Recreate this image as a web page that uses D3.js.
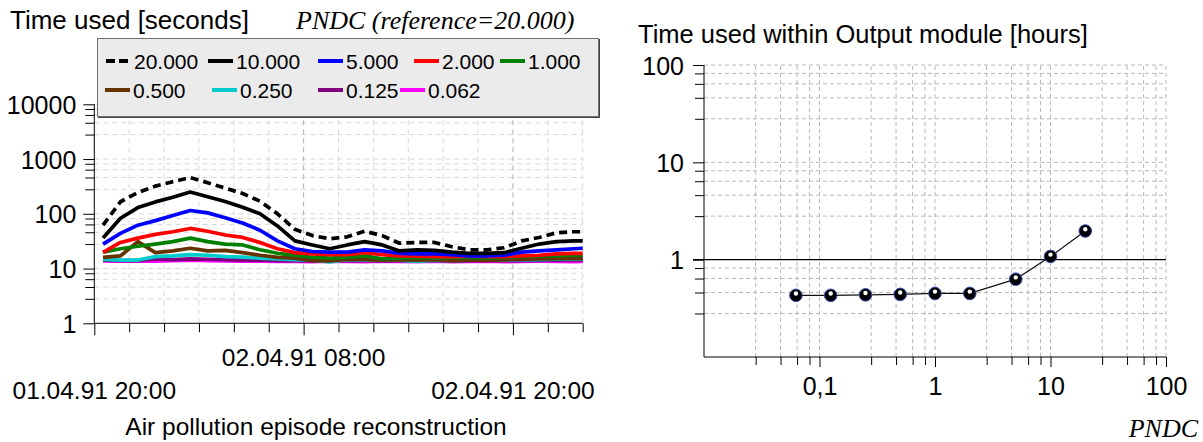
<!DOCTYPE html>
<html>
<head>
<meta charset="utf-8">
<script src="https://cdn.jsdelivr.net/npm/d3@7"></script>
<style>
  html, body { margin: 0; padding: 0; background: #fff; }
  svg { display: block; }
  text { font-family: "Liberation Sans", Arial, sans-serif; fill: #000; }
  .serif { font-family: "Liberation Serif", "Times New Roman", serif; font-style: italic; }
</style>
</head>
<body>
<svg id="chart" width="1203" height="442"></svg>
<script>
// ---------- data: computing time per simulation step (left panel) ----------
// hours after 01.04.91 20:00 (UTC) for each sample
const hourOffsets = [0.5, 1.5, 2.5, 3.5, 4.5, 5.5, 6.5, 7.5, 8.5, 9.5, 10.5, 11.5, 12.5, 13.5,
  14.5, 15.5, 16.5, 17.5, 18.5, 19.5, 20.5, 21.5, 22.5, 23.5, 24.5, 25.5, 26.5, 27.5, 28];

const seriesNames = ["20.000", "10.000", "5.000", "2.000", "1.000", "0.500", "0.250", "0.125", "0.062"];
const seriesColors = ["#000000", "#000000", "#0000ff", "#ff0000", "#008000", "#663300", "#00cccc", "#800080", "#ff00ff"];

const sec20000 = [62, 166, 245, 320, 385, 460, 370, 295, 235, 170, 100, 52, 40, 35, 38, 48, 40, 29, 30, 30, 25, 22, 22, 24, 32, 37, 45, 47, 47];
const sec10000 = [36, 83, 130, 165, 200, 250, 205, 168, 132, 100, 60, 32, 27, 23, 27, 31, 27, 21, 22, 21.5, 20, 19, 19, 19.5, 23.5, 28, 31, 32, 32];
const sec5000  = [28, 44, 62, 75, 93, 115, 104, 85, 68, 50, 32, 23, 20.5, 20, 20, 22, 21, 19, 18.5, 18.5, 18, 17, 17, 17.5, 20, 21, 22, 23, 23.5];
const sec2000  = [19.8, 30, 36, 42, 47, 54, 48, 41, 37, 30, 23, 19.5, 18.5, 18, 18, 19.5, 18, 17, 16.8, 16.5, 16.5, 17, 16.5, 16.5, 17, 17.5, 18.5, 19, 19];
const sec1000  = [19.8, 23, 25.5, 28, 31, 36, 31, 28, 27, 22, 19, 17.5, 16, 15.5, 16, 17, 15, 15.5, 16, 15.5, 16, 16, 15.5, 16, 16.5, 17, 17, 17.5, 17.5];
const sec0500  = [16, 17, 31, 19.5, 21, 23.5, 21, 21.5, 19.5, 17.5, 16, 15.5, 14, 13.8, 14.7, 14.5, 14.3, 14.5, 14.2, 14.5, 13.8, 14.3, 14.2, 14.4, 14.8, 15, 15.2, 15.4, 15.4];
const sec0250  = [14.7, 14.2, 14.3, 16.5, 17, 18, 17.5, 16.5, 16.2, 15.5, 15, 14.5, 14.3, 13.2, 14.5, 14.3, 14.5, 14.2, 13.5, 14.2, 14, 14.3, 14.5, 14.3, 14.5, 14.5, 14.8, 15, 15];
const sec0125  = [14.2, 14, 14, 15, 14.5, 15, 14.8, 14.5, 14.3, 14.2, 14, 14, 13.8, 14, 13.9, 14, 13.8, 14, 14, 13.9, 14, 14, 13.9, 14, 14, 14.1, 14.2, 14.2, 14.2];
const sec0062  = [13.8, 13.6, 13.7, 13.6, 14, 14.2, 14, 13.8, 13.7, 13.6, 13.5, 13.5, 13.4, 13.6, 13.5, 13.4, 13.6, 13.5, 13.4, 13.6, 13.4, 13.5, 13.6, 13.4, 13.5, 13.6, 13.5, 13.4, 13.5];
const seriesValues = [sec20000, sec10000, sec5000, sec2000, sec1000, sec0500, sec0250, sec0125, sec0062];

// ---------- data: output module time versus PNDC (right panel) ----------
const pndcValues = [0.0625, 0.125, 0.25, 0.5, 1, 2, 5, 10, 20];
const outputHours = [0.43, 0.43, 0.435, 0.44, 0.45, 0.45, 0.63, 1.08, 1.97];

// tick labels
const leftYTicks = [1, 10, 100, 1000, 10000];
const rightYTicks = [1, 10, 100];
const rightXTicks = [0.1, 1, 10, 100];
const timeLabelHours = [0, 12, 24];   // 20:00, 08:00, 20:00
const minorSteps = [2.8, 4.6, 6.4, 8.2];  // each decade split in five linear steps

// ---------- helpers ----------
const svg = d3.select("#chart");
const startTime = Date.UTC(1991, 3, 1, 20, 0);
const hourMs = 3600 * 1000;
const fmtTime = d3.utcFormat("%d.%m.%y %H:%M");
const commaLocale = d3.formatLocale({decimal: ",", thousands: "", grouping: [3], currency: ["", ""]});
const fmtComma = commaLocale.format("~g");

function logGrid(lo, hi) {
  const out = [];
  for (let d = lo; d < hi * 0.999; d *= 10) {
    out.push(d);
    minorSteps.forEach(m => out.push(d * m));
  }
  out.push(hi);
  return out;
}

// =================== LEFT PANEL ===================
const L = {left: 94.3, right: 582.7, top: 104.3, bottom: 323.3};
const xTime = d3.scaleUtc()
  .domain([new Date(startTime), new Date(startTime + 28 * hourMs)])
  .range([L.left, L.right]);
const yLeft = d3.scaleLog().domain([1, 10000]).range([L.bottom, L.top]);

const left = svg.append("g");
const leftGridY = logGrid(1, 10000);
const timeTicks = d3.range(0, 29, 2).map(h => new Date(startTime + h * hourMs));

// grid
left.append("g").selectAll("line").data(leftGridY.filter(v => v > 1)).join("line")
  .attr("x1", L.left).attr("x2", L.right)
  .attr("y1", d => yLeft(d)).attr("y2", d => yLeft(d))
  .attr("stroke", "#d8d8d8").attr("stroke-width", 1).attr("stroke-dasharray", "5,4");
left.append("g").selectAll("line").data(timeTicks.slice(1)).join("line")
  .attr("x1", d => xTime(d)).attr("x2", d => xTime(d))
  .attr("y1", L.bottom).attr("y2", L.top)
  .attr("stroke", (d, i) => ((i + 1) % 6 === 0 ? "#b0b0b0" : "#d8d8d8"))
  .attr("stroke-width", 1).attr("stroke-dasharray", "5,4");

// y axis (major + minor ticks)
const yAxisMajor = d3.axisLeft(yLeft).tickValues(leftYTicks).tickSize(11).tickSizeOuter(0)
  .tickPadding(7).tickFormat(d3.format("d"));
const yAxisMinor = d3.axisLeft(yLeft).tickValues(leftGridY.filter(v => leftYTicks.indexOf(v) < 0))
  .tickSize(9).tickSizeOuter(0).tickFormat("");
const gyl = left.append("g").attr("transform", `translate(${L.left},0)`).call(yAxisMinor);
const gyL = left.append("g").attr("transform", `translate(${L.left},0)`).call(yAxisMajor);
[gyl, gyL].forEach(g => {
  g.select(".domain").remove();
  g.selectAll("line").attr("stroke", "#000");
});
gyL.selectAll("text").attr("font-size", 25).attr("font-family", "Liberation Sans, Arial, sans-serif").attr("dy", "0.36em");
left.append("line").attr("x1", L.left).attr("x2", L.left).attr("y1", L.top).attr("y2", L.bottom).attr("stroke", "#000");

// x axis
const xAxisTime = d3.axisBottom(xTime).tickValues(timeTicks)
  .tickSize(9).tickSizeOuter(0).tickFormat("");
const gx = left.append("g").attr("transform", `translate(0,${L.bottom})`).call(xAxisTime);
gx.select(".domain").remove();
gx.selectAll(".tick line").attr("stroke", "#000")
  .attr("y2", (d, i) => (i % 6 === 0 ? 12 : 9));
left.append("line").attr("x1", L.left).attr("x2", L.right).attr("y1", L.bottom).attr("y2", L.bottom).attr("stroke", "#000");

timeLabelHours.forEach((h, i) => {
  const t = new Date(startTime + h * hourMs);
  left.append("text").attr("x", xTime(t)).attr("y", i === 1 ? 366 : 399)
    .attr("text-anchor", "middle").attr("font-size", 24.5).text(fmtTime(t));
});
left.append("text").attr("x", 316).attr("y", 435).attr("text-anchor", "middle")
  .attr("font-size", 24.5).text("Air pollution episode reconstruction");

// series lines
const lineGen = d3.line()
  .x((d, i) => xTime(new Date(startTime + hourOffsets[i] * hourMs)))
  .y(d => yLeft(d));
const order = d3.range(seriesNames.length).reverse();
left.append("g").selectAll("path").data(order).join("path")
  .attr("d", i => lineGen(seriesValues[i]))
  .attr("fill", "none")
  .attr("stroke", i => seriesColors[i])
  .attr("stroke-width", 3.7)
  .attr("stroke-linejoin", "round")
  .attr("stroke-dasharray", i => (i === 0 ? "8,5" : null));

// titles
svg.append("text").attr("x", 10).attr("y", 29).attr("font-size", 26).text("Time used [seconds]");
svg.append("text").attr("class", "serif").attr("x", 296).attr("y", 29).attr("font-size", 26)
  .text("PNDC (reference=20.000)");

// legend
const legendPos = [
  [106, 61], [208, 61], [318, 61], [414, 61], [500, 61],
  [105, 90], [212, 90], [318, 90], [400, 90]
];
const legend = svg.append("g");
legend.append("rect").attr("x", 97.5).attr("y", 38.5).attr("width", 501).attr("height", 78)
  .attr("fill", "#ebebeb").attr("stroke", "#6e6e6e").attr("stroke-width", 1);
legend.append("line").attr("x1", 98).attr("x2", 599).attr("y1", 117.5).attr("y2", 117.5).attr("stroke", "#444");
legend.append("line").attr("x1", 599.5).attr("x2", 599.5).attr("y1", 39).attr("y2", 118).attr("stroke", "#444");
const items = legend.selectAll("g.item").data(seriesNames).join("g")
  .attr("transform", (d, i) => `translate(${legendPos[i][0]},${legendPos[i][1]})`);
items.append("line").attr("x1", 0).attr("x2", (d, i) => (i === 0 ? 22 : 25)).attr("y1", 0).attr("y2", 0)
  .attr("stroke", (d, i) => seriesColors[i]).attr("stroke-width", 4)
  .attr("stroke-dasharray", (d, i) => (i === 0 ? "9,4" : null));
items.append("text").attr("x", 28).attr("y", 8).attr("font-size", 21).text(d => d);

// =================== RIGHT PANEL ===================
const R = {left: 704, right: 1166, top: 65, bottom: 357};
const xR = d3.scaleLog().domain([0.01, 100]).range([R.left, R.right]);
const yR = d3.scaleLog().domain([0.1, 100]).range([R.bottom, R.top]);
const right = svg.append("g");
const gridXR = logGrid(0.01, 100).filter(v => v > 0.01);
const gridYR = logGrid(0.1, 100).filter(v => v > 0.1);

right.append("g").selectAll("line").data(gridYR.filter(v => v !== 1)).join("line")
  .attr("x1", R.left).attr("x2", R.right).attr("y1", d => yR(d)).attr("y2", d => yR(d))
  .attr("stroke", "#b8b8b8").attr("stroke-dasharray", "4,3");
right.append("g").selectAll("line").data(gridXR).join("line")
  .attr("x1", d => xR(d)).attr("x2", d => xR(d)).attr("y1", R.bottom).attr("y2", R.top)
  .attr("stroke", "#b8b8b8").attr("stroke-dasharray", "4,3");

// y axis
const yAxisRMinor = d3.axisLeft(yR).tickValues(gridYR.filter(v => rightYTicks.indexOf(v) < 0))
  .tickSize(9).tickSizeOuter(0).tickFormat("");
const yAxisRMajor = d3.axisLeft(yR).tickValues(rightYTicks).tickSize(11).tickSizeOuter(0)
  .tickPadding(9).tickFormat(fmtComma);
const gyr = right.append("g").attr("transform", `translate(${R.left},0)`).call(yAxisRMinor);
const gyR = right.append("g").attr("transform", `translate(${R.left},0)`).call(yAxisRMajor);
[gyr, gyR].forEach(g => { g.select(".domain").remove(); g.selectAll("line").attr("stroke", "#000"); });
gyR.selectAll("text").attr("font-size", 25).attr("font-family", "Liberation Sans, Arial, sans-serif").attr("dy", "0.36em");
right.append("line").attr("x1", R.left).attr("x2", R.left).attr("y1", R.top).attr("y2", R.bottom).attr("stroke", "#000");

// reference line at one hour
right.append("line").attr("x1", R.left - 11).attr("x2", R.right).attr("y1", yR(1)).attr("y2", yR(1))
  .attr("stroke", "#000").attr("stroke-width", 1.2);

// x axis
const xAxisRMinor = d3.axisBottom(xR).tickValues(gridXR.filter(v => rightXTicks.indexOf(v) < 0))
  .tickSize(8).tickSizeOuter(0).tickFormat("");
const xAxisRMajor = d3.axisBottom(xR).tickValues(rightXTicks).tickSize(10).tickSizeOuter(0)
  .tickPadding(10).tickFormat(fmtComma);
const gxr = right.append("g").attr("transform", `translate(0,${R.bottom})`).call(xAxisRMinor);
const gxR = right.append("g").attr("transform", `translate(0,${R.bottom})`).call(xAxisRMajor);
[gxr, gxR].forEach(g => { g.select(".domain").remove(); g.selectAll("line").attr("stroke", "#000"); });
gxR.selectAll("text").attr("font-size", 25).attr("font-family", "Liberation Sans, Arial, sans-serif");
right.append("line").attr("x1", R.left).attr("x2", R.right).attr("y1", R.bottom).attr("y2", R.bottom).attr("stroke", "#000");

// data line and markers
const lineR = d3.line().x((d, i) => xR(pndcValues[i])).y(d => yR(d));
right.append("path").attr("d", lineR(outputHours)).attr("fill", "none").attr("stroke", "#111").attr("stroke-width", 1.2);
const marks = right.append("g").selectAll("g").data(outputHours).join("g")
  .attr("transform", (d, i) => `translate(${xR(pndcValues[i])},${yR(d)})`);
marks.append("circle").attr("r", 6.3).attr("fill", "#000").attr("stroke", "#3a4fb0").attr("stroke-width", 1);
marks.append("circle").attr("cx", 0).attr("cy", -1.8).attr("r", 2.2).attr("fill", "#fff");

svg.append("text").attr("x", 638).attr("y", 43).attr("font-size", 25.5).text("Time used within Output module [hours]");
svg.append("text").attr("class", "serif").attr("x", 1198).attr("y", 437).attr("text-anchor", "end")
  .attr("font-size", 26).text("PNDC");
</script>
</body>
</html>
